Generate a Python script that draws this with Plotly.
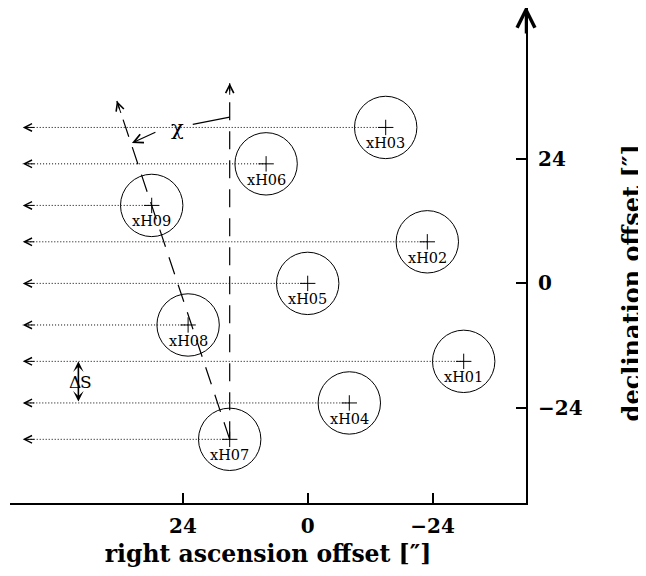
import plotly.graph_objects as go

# ---------------- data ----------------
labels = ["xH01", "xH02", "xH03", "xH04", "xH05", "xH06", "xH07", "xH08", "xH09"]
ra_offset = [-30, -23, -15, -8, 0, 8, 15, 23, 30]
dec_offset = [-15, 8, 30, -23, 0, 23, -30, -8, 15]
beam_radius = 6.0

row_arrow_ra = 54.8            # where the dotted scan lines end (arrow tips)
vertical_tip = (15.0, 38.5)    # tip of vertical dashed line (from xH07)
tilted_tip = (36.7, 35.1)      # tip of tilted dashed line (from xH07)
chi_bar_ra = [22.1, 15.0]
chi_bar_dec = [30.6, 32.0]
chi_label = (25.1, 29.9)
chi_arrow_tail = (29.0, 29.2)
chi_arrow_tip = (33.8, 27.0)
ds_ra = 44.1
ds_dec = (-15, -23)

x_ticks = [24, 0, -24]
y_ticks = [24, 0, -24]
x_range = [57.25, -41.98]
y_range = [-42.25, 52.98]

SERIF = "DejaVu Serif"

fig = go.Figure()

# dotted scan lines
for x, y in zip(ra_offset, dec_offset):
    fig.add_trace(go.Scatter(x=[x, row_arrow_ra], y=[y, y], mode="lines",
                             line=dict(color="black", width=1, dash="1px,2px"),
                             hoverinfo="skip", showlegend=False))

# dashed lines from xH07
i07 = labels.index("xH07")
x07, y07 = ra_offset[i07], dec_offset[i07]
fig.add_trace(go.Scatter(x=[x07, vertical_tip[0]], y=[y07, vertical_tip[1]], mode="lines",
                         line=dict(color="black", width=1.2, dash="18px,11px"),
                         hoverinfo="skip", showlegend=False))
fig.add_trace(go.Scatter(x=[x07, tilted_tip[0]], y=[y07, tilted_tip[1]], mode="lines",
                         line=dict(color="black", width=1.2, dash="18px,11px"),
                         hoverinfo="skip", showlegend=False))

# chi bar
fig.add_trace(go.Scatter(x=chi_bar_ra, y=chi_bar_dec, mode="lines",
                         line=dict(color="black", width=1.2),
                         hoverinfo="skip", showlegend=False))

# pointing centres
fig.add_trace(go.Scatter(x=ra_offset, y=dec_offset, mode="markers",
                         marker=dict(symbol="cross-thin", size=11,
                                     line=dict(color="black", width=1)),
                         text=labels, hoverinfo="text", showlegend=False))

shapes = []
for x, y in zip(ra_offset, dec_offset):
    shapes.append(dict(type="circle", xref="x", yref="y",
                       x0=x - beam_radius, x1=x + beam_radius,
                       y0=y - beam_radius, y1=y + beam_radius,
                       line=dict(color="black", width=1)))

annotations = []
for lab, x, y in zip(labels, ra_offset, dec_offset):
    annotations.append(dict(x=x, y=y, text=lab, showarrow=False, yshift=-16,
                            font=dict(family=SERIF, size=14.5, color="black")))

# arrowheads on scan lines
for y in dec_offset:
    annotations.append(dict(x=row_arrow_ra, y=y, ax=row_arrow_ra - 2.5, ay=y,
                            xref="x", yref="y", axref="x", ayref="y", text="",
                            showarrow=True, arrowhead=5, arrowsize=1.5, arrowwidth=1,
                            arrowcolor="black"))
# arrowheads on dashed lines
annotations.append(dict(x=vertical_tip[0], y=vertical_tip[1], ax=vertical_tip[0],
                        ay=vertical_tip[1] - 2.5, xref="x", yref="y", axref="x", ayref="y",
                        text="", showarrow=True, arrowhead=5, arrowsize=1.6, arrowwidth=1,
                        arrowcolor="black"))
f = 0.04
annotations.append(dict(x=tilted_tip[0], y=tilted_tip[1],
                        ax=tilted_tip[0] + f * (x07 - tilted_tip[0]),
                        ay=tilted_tip[1] + f * (y07 - tilted_tip[1]),
                        xref="x", yref="y", axref="x", ayref="y",
                        text="", showarrow=True, arrowhead=5, arrowsize=1.6, arrowwidth=1,
                        arrowcolor="black"))
# chi
annotations.append(dict(x=chi_arrow_tip[0], y=chi_arrow_tip[1],
                        ax=chi_arrow_tail[0], ay=chi_arrow_tail[1],
                        xref="x", yref="y", axref="x", ayref="y",
                        text="", showarrow=True, arrowhead=5, arrowsize=1.5, arrowwidth=1.2,
                        arrowcolor="black"))
annotations.append(dict(x=chi_label[0], y=chi_label[1], text="χ", showarrow=False,
                        font=dict(family=SERIF, size=21, color="black")))
# delta S
annotations.append(dict(x=ds_ra, y=ds_dec[0], ax=ds_ra, ay=ds_dec[1],
                        xref="x", yref="y", axref="x", ayref="y", text="",
                        showarrow=True, arrowhead=3, startarrowhead=3, arrowside="end+start",
                        arrowsize=1.1, startarrowsize=1.1, arrowwidth=1.6, arrowcolor="black"))
annotations.append(dict(x=ds_ra, y=(ds_dec[0] + ds_dec[1]) / 2, text="Δ", showarrow=False,
                        xshift=-3, font=dict(family=SERIF, size=17, color="black")))
annotations.append(dict(x=ds_ra, y=(ds_dec[0] + ds_dec[1]) / 2, text="S", showarrow=False,
                        xshift=8, font=dict(family=SERIF, size=17, color="black")))
# y-axis arrow (tip slightly above the plot top)
annotations.append(dict(x=1, y=1, xref="paper", yref="paper", ax=0, ay=30, yshift=3,
                        text="", showarrow=True, arrowhead=5, arrowsize=1.4, arrowwidth=2.5,
                        arrowcolor="black"))
# y-axis title (centred on declination 0, right of the tick labels)
annotations.append(dict(x=1, xref="paper", xshift=105, y=0, yref="y",
                        text="declination offset [″]", textangle=-90, showarrow=False,
                        xanchor="center", yanchor="middle",
                        font=dict(family=SERIF, size=24, color="black", weight="bold")))

axis_common = dict(showline=True, linewidth=2, linecolor="black", ticks="inside",
                   ticklen=10, tickwidth=2, tickcolor="black", showgrid=False,
                   zeroline=False, mirror=False,
                   tickfont=dict(family=SERIF, size=20, color="black", weight="bold"))

fig.update_layout(
    width=638, height=560,
    margin=dict(l=2, r=120, t=0, b=65),
    paper_bgcolor="white", plot_bgcolor="white",
    shapes=shapes, annotations=annotations,
    xaxis=dict(range=x_range, tickvals=x_ticks, ticklabelstandoff=4,
               ticktext=[str(v).replace("-", "−") for v in x_ticks],
               title=dict(text="right ascension offset [″]", standoff=14,
                          font=dict(family=SERIF, size=23.5, color="black", weight="bold")),
               **axis_common),
    yaxis=dict(range=y_range, side="right", tickvals=y_ticks, ticklabelstandoff=6,
               ticktext=[str(v).replace("-", "−") for v in y_ticks],
               **axis_common),
)

fig.write_html("out.html")
